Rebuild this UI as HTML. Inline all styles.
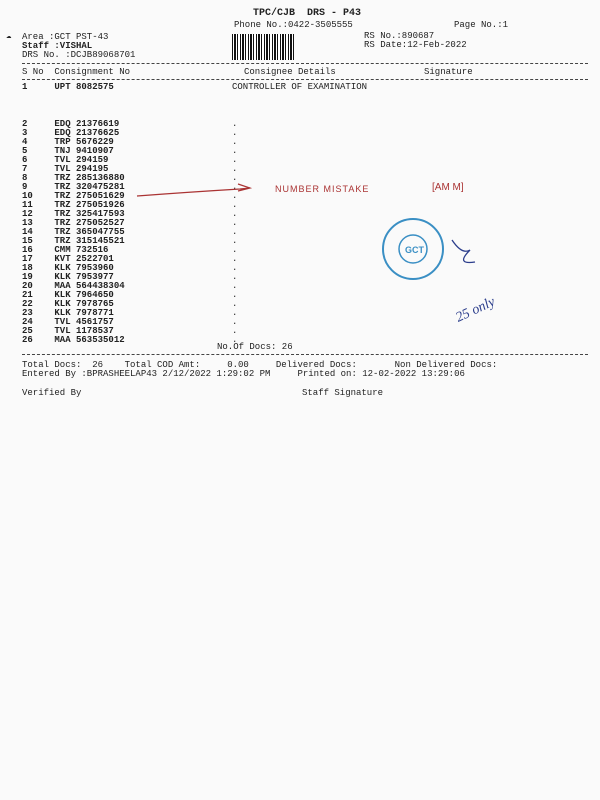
<html><head><style>
body{margin:0;width:600px;height:800px;background:#fafafa;font-family:"Liberation Mono",monospace;font-size:9px;color:#222;position:relative;overflow:hidden}
.a{position:absolute;white-space:pre;line-height:9px}
.b{font-weight:bold}
.d{position:absolute;left:22px;width:566px;border-top:1px dashed #444}
</style></head><body>
<div class="a b" style="left:253px;top:9px;font-size:10px">TPC/CJB  DRS - P43</div>
<div class="a" style="left:234px;top:21px">Phone No.:0422-3505555</div>
<div class="a" style="left:454px;top:21px">Page No.:1</div>
<div class="a" style="left:22px;top:33px">Area :GCT PST-43</div>
<div class="a" style="left:6px;top:32px">&#9729;</div>
<div class="a b" style="left:22px;top:42px">Staff :VISHAL</div>
<div class="a" style="left:22px;top:51px">DRS No. :DCJB89068701</div>
<div class="a" style="left:364px;top:32px">RS No.:890687</div>
<div class="a" style="left:364px;top:41px">RS Date:12-Feb-2022</div>
<div style="position:absolute;left:232px;top:34px;width:62px;height:26px;background:repeating-linear-gradient(90deg,#111 0 1px,#fff 1px 2px,#111 2px 4px,#fff 4px 5px,#111 5px 6px,#fff 6px 8px)"></div>
<div class="d" style="top:63px"></div>
<div class="a" style="left:22px;top:68px">S No  Consignment No</div>
<div class="a" style="left:244px;top:68px">Consignee Details</div>
<div class="a" style="left:424px;top:68px">Signature</div>
<div class="d" style="top:79px"></div>
<div class="a b" style="left:22px;top:83px">1     UPT 8082575</div>
<div class="a" style="left:232px;top:83px">CONTROLLER OF EXAMINATION</div>
<div class="a b" style="left:22px;top:120px;line-height:9px">2     EDQ 21376619
3     EDQ 21376625
4     TRP 5676229
5     TNJ 9410907
6     TVL 294159
7     TVL 294195
8     TRZ 285136880
9     TRZ 320475281
10    TRZ 275051629
11    TRZ 275051926
12    TRZ 325417593
13    TRZ 275052527
14    TRZ 365047755
15    TRZ 315145521
16    CMM 732516
17    KVT 2522701
18    KLK 7953960
19    KLK 7953977
20    MAA 564438304
21    KLK 7964650
22    KLK 7978765
23    KLK 7978771
24    TVL 4561757
25    TVL 1178537
26    MAA 563535012</div>
<div class="a" style="left:232px;top:120px">.
.
.
.
.
.
.
.
.
.
.
.
.
.
.
.
.
.
.
.
.
.
.
.
.</div>
<div class="a" style="left:217px;top:343px">No.Of Docs: 26</div>
<div class="d" style="top:354px"></div>
<div class="a" style="left:22px;top:361px">Total Docs:  26    Total COD Amt:     0.00     Delivered Docs:       Non Delivered Docs:</div>
<div class="a" style="left:22px;top:370px">Entered By :BPRASHEELAP43 2/12/2022 1:29:02 PM     Printed on: 12-02-2022 13:29:06</div>
<div class="a" style="left:22px;top:389px">Verified By</div>
<div class="a" style="left:302px;top:389px">Staff Signature</div>
<svg style="position:absolute;left:0;top:0" width="600" height="800">
<path d="M137 196 Q190 192 240 189 L250 188 M238 184 L250 188 L238 191" stroke="#a33" fill="none" stroke-width="1.2"/>
<text x="275" y="192" fill="#a33" font-size="9" font-family="Liberation Sans" letter-spacing="1">NUMBER MISTAKE</text>
<text x="432" y="190" fill="#a33" font-size="10" font-family="Liberation Sans">[AM M]</text>
<circle cx="413" cy="249" r="30" fill="none" stroke="#3a8fc4" stroke-width="2"/>
<circle cx="413" cy="249" r="14" fill="none" stroke="#3a8fc4" stroke-width="1.5"/>
<text x="405" y="253" fill="#3a8fc4" font-size="9" font-family="Liberation Sans" font-weight="bold">GCT</text>
<path d="M452 240 Q462 255 470 250 Q455 265 475 262" stroke="#2c3e8c" fill="none" stroke-width="1.3"/>
<text x="450" y="315" fill="#2c3e8c" font-size="14" font-family="Liberation Serif" font-style="italic" transform="rotate(-25 470 300)">25 only</text>
</svg>
</body></html>
